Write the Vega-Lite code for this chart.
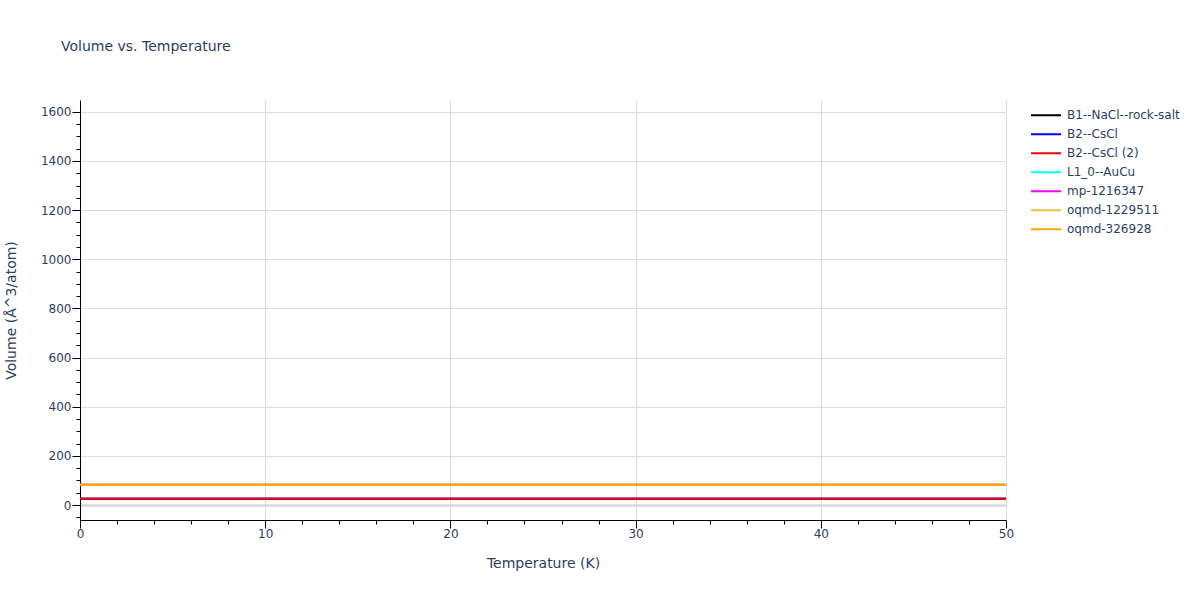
{
  "$schema": "https://vega.github.io/schema/vega-lite/v6.json",
  "width": 926,
  "height": 420,
  "autosize": {"type": "none"},
  "padding": {"left": 80, "top": 100, "right": 194, "bottom": 80},
  "background": "white",
  "title": {
    "text": "Volume vs. Temperature",
    "anchor": "start",
    "frame": "group",
    "dx": -19,
    "offset": 39,
    "baseline": "middle",
    "fontSize": 14,
    "font": "DejaVu Sans",
    "fontWeight": "normal",
    "color": "#2a3f5f"
  },
  "config": {
    "view": {"stroke": null},
    "font": "DejaVu Sans"
  },
  "data": {
    "values": [
      {"series": "B1--NaCl--rock-salt", "T": 0, "V": 25},
      {"series": "B1--NaCl--rock-salt", "T": 10, "V": 25},
      {"series": "B1--NaCl--rock-salt", "T": 20, "V": 25},
      {"series": "B1--NaCl--rock-salt", "T": 30, "V": 25},
      {"series": "B1--NaCl--rock-salt", "T": 40, "V": 25},
      {"series": "B1--NaCl--rock-salt", "T": 50, "V": 25},
      {"series": "B2--CsCl", "T": 0, "V": 25},
      {"series": "B2--CsCl", "T": 10, "V": 25},
      {"series": "B2--CsCl", "T": 20, "V": 25},
      {"series": "B2--CsCl", "T": 30, "V": 25},
      {"series": "B2--CsCl", "T": 40, "V": 25},
      {"series": "B2--CsCl", "T": 50, "V": 25},
      {"series": "B2--CsCl (2)", "T": 0, "V": 25},
      {"series": "B2--CsCl (2)", "T": 10, "V": 25},
      {"series": "B2--CsCl (2)", "T": 20, "V": 25},
      {"series": "B2--CsCl (2)", "T": 30, "V": 25},
      {"series": "B2--CsCl (2)", "T": 40, "V": 25},
      {"series": "B2--CsCl (2)", "T": 50, "V": 25},
      {"series": "L1_0--AuCu", "T": 0, "V": 82},
      {"series": "L1_0--AuCu", "T": 10, "V": 82},
      {"series": "L1_0--AuCu", "T": 20, "V": 82},
      {"series": "L1_0--AuCu", "T": 30, "V": 82},
      {"series": "L1_0--AuCu", "T": 40, "V": 82},
      {"series": "L1_0--AuCu", "T": 50, "V": 82},
      {"series": "mp-1216347", "T": 0, "V": 82},
      {"series": "mp-1216347", "T": 10, "V": 82},
      {"series": "mp-1216347", "T": 20, "V": 82},
      {"series": "mp-1216347", "T": 30, "V": 82},
      {"series": "mp-1216347", "T": 40, "V": 82},
      {"series": "mp-1216347", "T": 50, "V": 82},
      {"series": "oqmd-1229511", "T": 0, "V": 82},
      {"series": "oqmd-1229511", "T": 10, "V": 82},
      {"series": "oqmd-1229511", "T": 20, "V": 82},
      {"series": "oqmd-1229511", "T": 30, "V": 82},
      {"series": "oqmd-1229511", "T": 40, "V": 82},
      {"series": "oqmd-1229511", "T": 50, "V": 82},
      {"series": "oqmd-326928", "T": 0, "V": 82},
      {"series": "oqmd-326928", "T": 10, "V": 82},
      {"series": "oqmd-326928", "T": 20, "V": 82},
      {"series": "oqmd-326928", "T": 30, "V": 82},
      {"series": "oqmd-326928", "T": 40, "V": 82},
      {"series": "oqmd-326928", "T": 50, "V": 82}
    ]
  },
  "resolve": {"axis": {"x": "independent", "y": "independent"}},
  "layer": [
    {
      "mark": {"type": "line", "strokeOpacity": 0},
      "encoding": {
        "x": {
          "field": "T", "type": "quantitative",
          "scale": {"domain": [0, 50], "nice": false, "zero": false},
          "axis": {
            "orient": "bottom",
            "values": [2, 4, 6, 8, 12, 14, 16, 18, 22, 24, 26, 28, 32, 34, 36, 38, 42, 44, 46, 48],
            "labels": false, "grid": false, "domain": false, "title": null,
            "ticks": true, "tickSize": 4, "tickColor": "#000000", "tickWidth": 1
          }
        },
        "y": {
          "field": "V", "type": "quantitative",
          "scale": {"domain": [-61, 1648], "nice": false, "zero": false},
          "axis": {
            "orient": "left",
            "values": [-50, 50, 100, 150, 250, 300, 350, 450, 500, 550, 650, 700, 750, 850, 900, 950, 1050, 1100, 1150, 1250, 1300, 1350, 1450, 1500, 1550, 1650],
            "labels": false, "grid": false, "domain": false, "title": null,
            "ticks": true, "tickSize": 4, "tickColor": "#000000", "tickWidth": 1
          }
        }
      }
    },
    {
      "mark": {"type": "line", "strokeWidth": 2, "clip": true},
      "encoding": {
        "x": {
          "field": "T", "type": "quantitative",
          "scale": {"domain": [0, 50], "nice": false, "zero": false},
          "axis": {
            "orient": "bottom",
            "values": [0, 10, 20, 30, 40, 50],
            "format": "d",
            "labelFlush": false,
            "title": "Temperature (K)",
            "titleFont": "DejaVu Sans", "titleFontSize": 14, "titleFontWeight": "normal",
            "titleColor": "#2a3f5f", "titlePadding": 17,
            "labelFont": "DejaVu Sans", "labelFontSize": 12, "labelColor": "#2a3f5f",
            "labelPadding": 0,
            "domainColor": "#000000", "domainWidth": 1,
            "tickColor": "#000000", "tickSize": 8, "tickWidth": 1,
            "grid": true, "gridColor": "#dcdcdc", "gridWidth": 1
          }
        },
        "y": {
          "field": "V", "type": "quantitative",
          "scale": {"domain": [-61, 1648], "nice": false, "zero": false},
          "axis": {
            "orient": "left",
            "values": [0, 200, 400, 600, 800, 1000, 1200, 1400, 1600],
            "format": "d",
            "labelFlush": false,
            "title": "Volume (Å^3/atom)",
            "titleFont": "DejaVu Sans", "titleFontSize": 14, "titleFontWeight": "normal",
            "titleColor": "#2a3f5f", "titlePadding": 22,
            "labelFont": "DejaVu Sans", "labelFontSize": 12, "labelColor": "#2a3f5f",
            "labelPadding": 1,
            "domainColor": "#000000", "domainWidth": 1,
            "tickColor": "#000000", "tickSize": 8, "tickWidth": 1,
            "grid": true, "gridColor": {"condition": {"test": "datum.value === 0", "value": "#d0d0d0"}, "value": "#dcdcdc"},
            "gridWidth": {"condition": {"test": "datum.value === 0", "value": 2}, "value": 1}
          }
        },
        "color": {
          "field": "series", "type": "nominal",
          "scale": {
            "domain": ["B1--NaCl--rock-salt", "B2--CsCl", "B2--CsCl (2)", "L1_0--AuCu", "mp-1216347", "oqmd-1229511", "oqmd-326928"],
            "range": ["#000000", "#0000ff", "#ff0000", "#00ffff", "#ff00ff", "#efc53f", "#ffa500"]
          },
          "legend": {
            "title": null,
            "orient": "none",
            "legendX": 950,
            "legendY": 6,
            "symbolType": "stroke",
            "symbolSize": 900,
            "symbolStrokeWidth": 2,
            "rowPadding": 0,
            "clipHeight": 18.5,
            "labelFont": "DejaVu Sans",
            "labelFontSize": 12,
            "labelColor": "#2a3f5f",
            "labelOffset": 5
          }
        }
      }
    }
  ]
}
